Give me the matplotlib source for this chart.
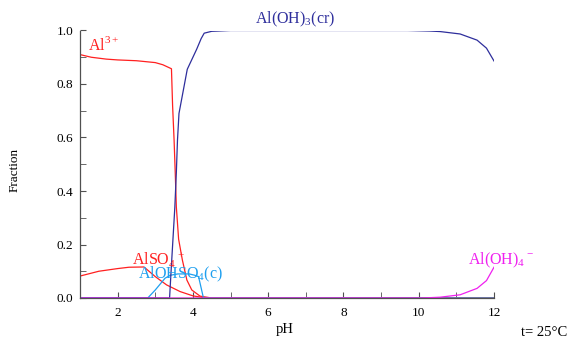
import matplotlib
matplotlib.use('Agg')
import matplotlib.pyplot as plt
from matplotlib.ticker import MultipleLocator

plt.rcParams['font.family'] = ['Liberation Serif', 'DejaVu Serif']
plt.rcParams['mathtext.fontset'] = 'custom'
plt.rcParams['mathtext.rm'] = 'Liberation Serif'

# species fractions (pH, fraction)
al3_ph = [1.0, 1.3, 1.7, 2.0, 2.5, 3.0, 3.2, 3.43, 3.46, 3.5, 3.53, 3.56, 3.62,
          3.72, 3.84, 3.97, 4.19, 4.5, 12.0]
al3_frac = [0.91, 0.90, 0.893, 0.89, 0.887, 0.88, 0.872, 0.857, 0.72, 0.59, 0.47, 0.34,
            0.22, 0.142, 0.067, 0.03, 0.007, 0.0, 0.0]

also4_ph = [1.0, 1.5, 2.0, 2.3, 2.7, 3.0, 3.3, 3.66, 4.0, 4.35, 12.0]
also4_frac = [0.082, 0.10, 0.11, 0.115, 0.116, 0.08, 0.049, 0.024, 0.008, 0.0, 0.0]

aloh3_ph = [1.0, 3.38, 3.42, 3.47, 3.52, 3.56, 3.59, 3.63, 3.67, 3.85, 4.0, 4.1, 4.22,
            4.3, 4.5, 5.0, 9.7, 10.3, 10.57, 11.1, 11.55, 11.8, 12.0]
aloh3_frac = [0.0, 0.0, 0.1, 0.22, 0.34, 0.47, 0.59, 0.69, 0.72, 0.855, 0.9, 0.93, 0.97,
              0.99, 0.997, 1.0, 1.0, 0.998, 0.996, 0.987, 0.964, 0.934, 0.886]

alohso4_ph = [1.0, 2.8, 3.0, 3.26, 3.4, 3.6, 3.9, 4.05, 4.15, 4.28, 12.0]
alohso4_frac = [0.0, 0.0, 0.03, 0.074, 0.085, 0.09, 0.09, 0.085, 0.08, 0.0, 0.0]

aloh4_ph = [1.0, 10.1, 10.57, 11.1, 11.55, 11.8, 12.0]
aloh4_frac = [0.0, 0.0, 0.003, 0.012, 0.036, 0.065, 0.115]

red = '#FF2020'
blue = '#2E2E9C'
cyan = '#1E9FEF'
magenta = '#F020F0'

fig = plt.figure(figsize=(5.69, 3.37), dpi=100)
ax = fig.add_axes([80 / 569, 1 - 298 / 337, 414 / 569, 267.5 / 337])

lw = 0.9
ax.plot(al3_ph, al3_frac, color=red, lw=lw)
ax.plot(also4_ph, also4_frac, color=red, lw=lw)
ax.plot(alohso4_ph, alohso4_frac, color=cyan, lw=lw)
ax.plot(aloh3_ph, aloh3_frac, color=blue, lw=lw)
ax.plot(aloh4_ph, aloh4_frac, color=magenta, lw=lw)

ax.set_xlim(1, 12)
ax.set_ylim(0, 1)
ax.spines['top'].set_visible(False)
ax.spines['right'].set_visible(False)
for s in ('left', 'bottom'):
    ax.spines[s].set_color('#505050')
    ax.spines[s].set_linewidth(0.9)

ax.xaxis.set_major_locator(MultipleLocator(2))
ax.xaxis.set_minor_locator(MultipleLocator(1))
ax.yaxis.set_major_locator(MultipleLocator(0.2))
ax.yaxis.set_minor_locator(MultipleLocator(0.1))
ax.yaxis.set_major_formatter(plt.FormatStrFormatter('%.1f'))
ax.tick_params(which='both', direction='in', color='#505050', labelsize=9.5, length=4)
ax.tick_params(axis='x', pad=6.5)
ax.tick_params(axis='y', pad=5)

fs = 11.5
ax.text(1.21, 0.946, r'Al$^{3+}$', color=red, fontsize=fs, ha='left', va='center')
ax.text(5.65, 1.043, r'Al(OH)$_3$(cr)', color=blue, fontsize=fs, ha='left', va='center',
        clip_on=False)
ax.text(2.38, 0.145, r'AlSO$_4$$^+$', color=red, fontsize=fs, ha='left', va='center')
ax.text(2.54, 0.09, r'AlOHSO$_4$(c)', color=cyan, fontsize=fs, ha='left', va='center')
ax.text(11.31, 0.142, r'Al(OH)$_4$$^-$', color=magenta, fontsize=fs, ha='left', va='center')

fig.text(15 / 569, 1 - 170 / 337, 'Fraction', rotation=90, fontsize=9.5,
         ha='center', va='center')
fig.text(285 / 569, 1 - 330 / 337, 'pH', fontsize=10.5, ha='center', va='center')
fig.text(567 / 569, 1 - 332 / 337, 't= 25°C', fontsize=10.5, ha='right', va='center')

fig.savefig('out.png', dpi=100)
